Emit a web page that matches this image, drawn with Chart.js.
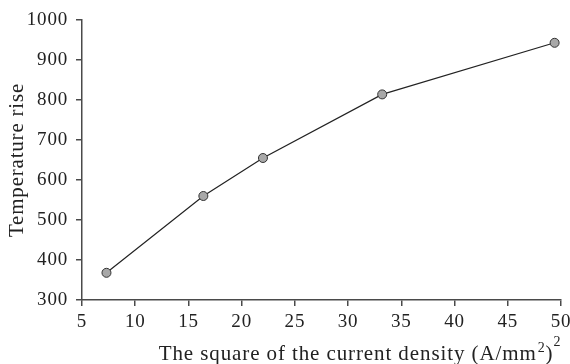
<!DOCTYPE html>
<html>
<head>
<meta charset="utf-8">
<script src="https://cdn.jsdelivr.net/npm/chart.js@4/dist/chart.umd.min.js"></script>
<style>
html,body{margin:0;padding:0;background:#fff;}
#wrap{width:570px;height:364px;position:relative;}
</style>
</head>
<body>
<div id="wrap"><canvas id="c"></canvas></div>
<script>
const xValues = [7.3, 16.4, 22.0, 33.2, 49.4];
const yValues = [368, 560, 655, 814, 943];
const xTicks = [5, 10, 15, 20, 25, 30, 35, 40, 45, 50];
const yTicks = [300, 400, 500, 600, 700, 800, 900, 1000];
const xTitleMain = 'The square of the current density (A/mm';
const xTitleSup1 = '2';
const xTitleClose = ')';
const xTitleSup2 = '2';
const yTitle = 'Temperature rise';

const points = xValues.map((x, i) => ({x: x, y: yValues[i]}));
const axisColor = '#4a4a4a';
const textColor = '#222';
const fam = '"Liberation Serif", "Times New Roman", serif';
const tickFont = {family: fam, size: 19};
const titleFont = {family: fam, size: 21};

const spacingPlugin = {
  id: 'spacing',
  beforeDraw(chart) { chart.ctx.letterSpacing = '0.8px'; }
};

const xTitlePlugin = {
  id: 'xTitle',
  afterDraw(chart) {
    const ctx = chart.ctx;
    ctx.save();
    ctx.letterSpacing = '0.9px';
    ctx.fillStyle = textColor;
    ctx.textBaseline = 'alphabetic';
    ctx.textAlign = 'left';
    const big = '21px ' + fam;
    const small = '14px ' + fam;
    ctx.font = big;
    const wMain = ctx.measureText(xTitleMain).width;
    const wClose = ctx.measureText(xTitleClose).width;
    ctx.font = small;
    const wS1 = ctx.measureText(xTitleSup1).width;
    const wS2 = ctx.measureText(xTitleSup2).width;
    const total = wMain + wS1 + 1 + wClose + wS2;
    const base = 360;
    let x = 360 - total / 2;
    ctx.font = big;
    ctx.fillText(xTitleMain, x, base);
    x += wMain + 1;
    ctx.font = small;
    ctx.fillText(xTitleSup1, x, base - 8);
    x += wS1;
    ctx.font = big;
    ctx.fillText(xTitleClose, x, base);
    x += wClose;
    ctx.font = small;
    ctx.fillText(xTitleSup2, x, base - 14);
    ctx.restore();
  }
};

new Chart(document.getElementById('c'), {
  type: 'scatter',
  data: {
    datasets: [{
      data: points,
      showLine: true,
      borderColor: '#222',
      borderWidth: 1.2,
      pointBackgroundColor: '#a8a8a8',
      pointBorderColor: '#333',
      pointBorderWidth: 1,
      pointRadius: 4.5,
      pointHoverRadius: 4.5,
      tension: 0
    }]
  },
  plugins: [spacingPlugin, xTitlePlugin],
  options: {
    responsive: true,
    maintainAspectRatio: false,
    animation: false,
    layout: {padding: {top: 20, right: 9, left: 0, bottom: 0}},
    plugins: {legend: {display: false}, tooltip: {enabled: false}},
    scales: {
      x: {
        type: 'linear',
        min: 5, max: 50,
        afterBuildTicks: (axis) => { axis.ticks = xTicks.map(v => ({value: v})); },
        afterFit: (axis) => { axis.height = 64; axis.paddingLeft = 0; axis.paddingRight = 0; },
        grid: {display: true, drawOnChartArea: false, drawTicks: true, tickLength: 6, color: axisColor, lineWidth: 1.5},
        border: {display: true, color: axisColor, width: 1.5},
        ticks: {color: textColor, font: tickFont, padding: 5, maxRotation: 0, callback: v => String(v)},
        title: {display: false}
      },
      y: {
        type: 'linear',
        min: 300, max: 1000,
        afterBuildTicks: (axis) => { axis.ticks = yTicks.map(v => ({value: v})); },
        afterFit: (axis) => { axis.width = 82; axis.paddingTop = 0; axis.paddingBottom = 0; },
        grid: {display: true, drawOnChartArea: false, drawTicks: true, tickLength: 6, color: axisColor, lineWidth: 1.5},
        border: {display: true, color: axisColor, width: 1.5},
        ticks: {color: textColor, font: tickFont, padding: 8, callback: v => String(v)},
        title: {display: true, text: yTitle, color: textColor, font: titleFont, padding: {top: 5, bottom: 0}}
      }
    }
  }
});
</script>
</body>
</html>
